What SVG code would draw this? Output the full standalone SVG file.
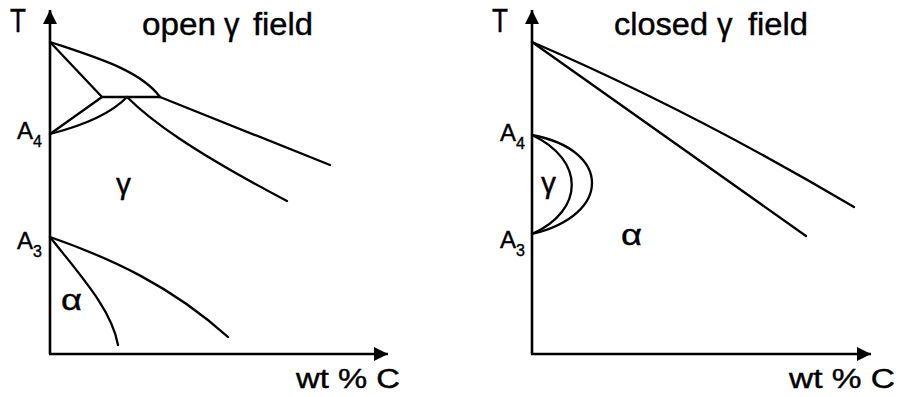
<svg xmlns="http://www.w3.org/2000/svg" width="899" height="397" viewBox="0 0 899 397">
<style>
text{font-family:"Liberation Sans",Arial,sans-serif;fill:#000;stroke:#000;stroke-width:0.4px}
.t{font-size:31px}
.tt{font-size:33px}
.a{font-size:24px}
.s{font-size:16px}
.g{font-size:30px}
.x{font-size:27px}
.ax{stroke:#000;stroke-width:2.6;fill:none}
.ln{stroke:#000;stroke-width:2.3;fill:none;stroke-linecap:round;stroke-linejoin:round}
</style>
<defs>
<marker id="arr" markerUnits="userSpaceOnUse" markerWidth="16" markerHeight="16" refX="14" refY="7" orient="auto">
<path d="M0,0 L14,7 L0,14 Z" fill="#000"/>
</marker>
</defs>

<g id="left-panel">
  <g id="left-axes">
    <line class="ax" x1="50" y1="354" x2="50" y2="10" marker-end="url(#arr)"/>
    <line class="ax" x1="49" y1="354" x2="388" y2="354" marker-end="url(#arr)"/>
  </g>
  <g id="left-curves">
    <path class="ln" d="M50,42 C95,57 140,70 160,97"/>
    <path class="ln" d="M50,42 L102,97 L160,97"/>
    <path class="ln" d="M50,134 L102,97"/>
    <path class="ln" d="M50,134 Q105,120 127,97"/>
    <path class="ln" d="M160,97 L330,165"/>
    <path class="ln" d="M127,97 C150,120 190,150 287,201"/>
    <path class="ln" d="M50,237 C110,258 170,285 228,337"/>
    <path class="ln" d="M50,237 C80,275 112,310 118,345"/>
  </g>
  <g id="left-labels">
    <text class="tt" x="10" y="32" textLength="16" lengthAdjust="spacingAndGlyphs">T</text>
    <text class="t" x="142" y="35" textLength="74" lengthAdjust="spacingAndGlyphs">open</text>
    <text class="t" x="224" y="35">γ</text>
    <text class="t" x="253" y="35" textLength="60" lengthAdjust="spacingAndGlyphs">field</text>
    <text class="a" x="17" y="139">A</text><text class="s" x="33" y="147">4</text>
    <text class="a" x="17" y="249">A</text><text class="s" x="33" y="257">3</text>
    <text class="g" x="116" y="194">γ</text>
    <text class="g" x="61" y="310" textLength="21" lengthAdjust="spacingAndGlyphs">α</text>
    <text class="x" x="296" y="388" textLength="104" lengthAdjust="spacingAndGlyphs">wt % C</text>
  </g>
</g>

<g id="right-panel">
  <g id="right-axes">
    <line class="ax" x1="532" y1="354" x2="532" y2="10" marker-end="url(#arr)"/>
    <line class="ax" x1="531" y1="354" x2="871" y2="354" marker-end="url(#arr)"/>
  </g>
  <g id="right-curves">
    <path class="ln" d="M532,42 Q690,110 854,207"/>
    <path class="ln" d="M532,42 L806,236"/>
    <path class="ln" d="M532,135 C585,160 585,210 532,234"/>
    <path class="ln" d="M532,135 C612,150 612,215 532,234"/>
  </g>
  <g id="right-labels">
    <text class="tt" x="492" y="32" textLength="16" lengthAdjust="spacingAndGlyphs">T</text>
    <text class="t" x="614" y="35" textLength="94" lengthAdjust="spacingAndGlyphs">closed</text>
    <text class="t" x="717" y="35">γ</text>
    <text class="t" x="748" y="35" textLength="60" lengthAdjust="spacingAndGlyphs">field</text>
    <text class="a" x="500" y="141">A</text><text class="s" x="516" y="149">4</text>
    <text class="a" x="500" y="248">A</text><text class="s" x="516" y="256">3</text>
    <text class="g" x="541" y="193">γ</text>
    <text class="g" x="621" y="245" textLength="21" lengthAdjust="spacingAndGlyphs">α</text>
    <text class="x" x="789" y="388" textLength="106" lengthAdjust="spacingAndGlyphs">wt % C</text>
  </g>
</g>
</svg>
